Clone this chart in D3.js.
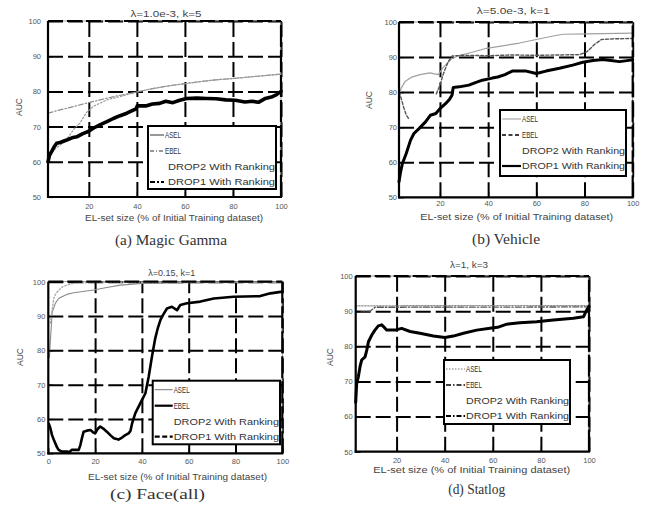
<!DOCTYPE html>
<html>
<head>
<meta charset="utf-8">
<script src="https://cdn.jsdelivr.net/npm/d3@7"></script>
<style>
  body { margin: 0; background: #fff; }
  svg { display: block; }
</style>
</head>
<body>
<svg id="fig" width="649" height="506" xmlns="http://www.w3.org/2000/svg"></svg>
<script>
// ---- shared labels and ticks ----
const yTicks = [50, 60, 70, 80, 90, 100];
const xTicks = [20, 40, 60, 80, 100];
const xTicksFace = [0, 20, 40, 60, 80, 100];
const seriesNames = ["ASEL", "EBEL", "DROP2 With Ranking", "DROP1 With Ranking"];
const xLabel = "EL-set size (% of Initial Training dataset)";
const yLabel = "AUC";
const titles = ["λ=1.0e-3, k=5", "λ=5.0e-3, k=1", "λ=0.15, k=1", "λ=1, k=3"];
const captions = ["(a) Magic Gamma", "(b) Vehicle", "(c) Face(all)", "(d) Statlog"];

// ---- (a) Magic Gamma: [EL-set size %, AUC] ----
const magicASEL = [[3,73.8],[7,74.6],[10.8,75.2],[17,76.3],[24.6,77.6],[31,78.6],[38.5,79.6],[45,80.6],[52.5,81.5],[60,82.2],[66.6,82.8],[73,83.3],[80.6,83.7],[90,84.3],[100,84.9]];
const magicEBEL = [[3.5,61],[5,63],[7,64.2],[9,65.2],[10.8,66.4],[12.5,68],[14,69.5],[16.3,71],[19,74],[22,75.8],[27.5,77.6],[33,78.5],[38.5,79.6],[45,80.6],[52.5,81.5],[60,82.2],[66.6,82.8],[73,83.3],[80.6,83.7],[90,84.3],[100,84.9]];
const magicDROP1 = [[3,60],[3.6,61.8],[4.5,62.9],[5.5,64.2],[6.6,65.3],[8,65.5],[10.8,66.2],[13,66.8],[15,67.1],[17.5,68],[19.8,68.6],[22,69.6],[24.6,70.5],[27.5,71.4],[30.2,72.3],[33,73.1],[35.8,73.8],[38.5,74.7],[39.6,75],[40.2,75.9],[44,75.9],[46.5,76.4],[49.5,76.6],[52,77.2],[55,76.8],[57.5,77.4],[60.7,78],[65,78.1],[69,78],[73,77.9],[77,77.6],[81,77.5],[85,77],[88,77.2],[90.6,76.9],[93.5,78],[96,78.4],[98,79],[100,80]];

// ---- (b) Vehicle ----
const vehicleASEL = [[3,77.2],[3.8,81],[5.5,83],[8,84.2],[11.7,85],[15.8,85.5],[19.3,85],[21.3,87],[24.8,89.5],[28.3,90.5],[33,91.3],[39.3,92.5],[46,93.2],[53,94],[60,95],[67,96],[71,96.5],[81,96.6],[100,96.8]];
const vehicleEBEL = [[3,80],[4,78],[5,75.5],[6,73.5],[7,72.5],[8,null],[18.5,79.5],[20,82],[21.3,85],[23.3,88.5],[25,90.3],[30,90.5],[40,90.4],[50,90.6],[60,90.5],[70,90.6],[78,90.7],[81,91.5],[84,93.5],[87,95],[92,95.2],[100,95.3]];
const vehicleDROP1 = [[3,54.4],[3.6,57],[4.4,59.6],[6,62.5],[7.8,66.3],[9.2,68.2],[11.3,69.6],[14,71.5],[16,73.4],[18.3,73.9],[20,75.3],[22.3,76.7],[24,78],[25,79.1],[25.5,81.3],[28,81.5],[32,82],[35,82.8],[37.6,83.4],[41.7,84],[44,84.3],[47,85],[50,86],[55.8,86],[60,85.3],[64,86],[69.6,86.8],[75.1,87.7],[79.3,88.5],[83.5,89],[87.6,89.3],[91,89],[94.5,88.7],[100,89.2]];

// ---- (c) Face(all) ----
const faceASEL = [[0.5,78],[0.9,83],[1.3,87],[1.6,91],[3,93.7],[4.4,95.1],[5.8,95.6],[7.9,96.3],[10.8,96.8],[19.4,97.6],[25,98.3],[30.8,99],[40,99.5],[60,99.7],[100,99.8]];
const faceEBEL = [[0.9,88],[1.7,92],[2.3,95],[3.2,96.5],[4.4,97.5],[6.5,98.7],[9.4,99.3],[11.7,99.6],[20,99.8],[100,99.9]];
const faceDROP1 = [[0.3,58.5],[0.8,57.5],[1.6,55.3],[2.3,54],[3,52.9],[3.7,51.8],[4.4,51],[5.8,50.5],[8,50.5],[9,50.3],[10,51],[13,51],[13.7,52.4],[14.4,54.5],[15.1,56.3],[16.5,56.6],[18,56.8],[19,56.2],[20,55.8],[21,57],[22.2,57.8],[23.5,57.2],[25,56.3],[26.5,55.3],[28,54.4],[30,54],[31.5,54.6],[32.9,55.3],[34.3,55.8],[35.1,56.5],[35.8,58.7],[37.2,61.7],[38.6,63.6],[40,65.5],[41.5,67.5],[42.9,72.3],[44.3,78.2],[45.7,83.5],[46.8,86.5],[47.9,88.8],[48.6,89.8],[50.7,92.2],[52.8,92.7],[55,91.7],[56.4,93.2],[59.3,93.7],[65,94.2],[70.7,95.1],[79.2,95.6],[90.6,95.8],[94.9,96.6],[100,97.1]];

// ---- (d) Statlog ----
const statlogASEL = [[3,91.5],[50,91.6],[100,91.6]];
const statlogEBEL = [[3,90],[9,90],[11,91.1],[100,91.2]];
const statlogDROP1 = [[3,64],[3.4,69.4],[4.1,71.3],[4.8,74.2],[5.5,76.1],[6.9,77],[7.6,78.9],[8.3,81.3],[9.7,83.2],[11,84.6],[12.4,85.8],[13.8,86.1],[15,85.3],[15.9,84.6],[19.4,84.6],[22.1,85.1],[25.6,84.2],[29.7,83.7],[35.3,82.9],[40.1,82.5],[43.6,82.9],[47.8,83.7],[53.3,84.6],[58.8,85.1],[62,85.4],[65.8,86.3],[71.3,86.7],[78.2,87],[85.2,87.5],[93.5,88],[97.7,88.4],[99,90.3],[100,91.3]];

// ---- drawing ----
const svg = d3.select("#fig");
const FONT = "'Liberation Sans', Arial, sans-serif";
const SERIF = "'Liberation Serif', 'Times New Roman', serif";

const panels = [
  { box: [48, 21, 281, 197], xDomain: [3, 100], xt: xTicks, xPad: 7, yPad: 7,
    title: [166, 14, 71], yLab: [19, 107], xLab: [174, 218, 178], cap: [171, 240, 112],
    legend: [148, 126, 276, 189], textOff: 17,
    series: [
      { data: magicASEL, stroke: "#8c8c8c", width: 1.2, dash: "5,2,1.5,2" },
      { data: magicEBEL, stroke: "#9c9c9c", width: 1.2, dash: "1.5,2" },
      { data: magicDROP1, stroke: "#000", width: 3.6 }
    ],
    keys: [
      { stroke: "#333", width: 1 }, { stroke: "#333", width: 1.2, dash: "4,2,1,2" },
      null, { stroke: "#000", width: 2, dash: "5,2,2,2" }
    ] },
  { box: [399, 22, 632.7, 197.3], xDomain: [3, 100], xt: xTicks, xPad: 3.2, yPad: 2,
    title: [513.3, 11, 73], yLab: [369, 100], xLab: [516.7, 216.7, 193], cap: [506, 239, 68],
    legend: [500, 110, 626, 176], textOff: 22,
    series: [
      { data: vehicleASEL, stroke: "#a0a0a0", width: 1.2 },
      { data: vehicleEBEL, stroke: "#555", width: 1.4, dash: "3,2" },
      { data: vehicleDROP1, stroke: "#000", width: 3 }
    ],
    keys: [
      { stroke: "#999", width: 1 }, { stroke: "#000", width: 1.6, dash: "4,2.5" },
      null, { stroke: "#000", width: 2.2 }
    ] },
  { box: [48.3, 281.7, 282.3, 453.3], xDomain: [0, 100], xt: xTicksFace, xPad: 5.8, yPad: 3,
    title: [171.7, 273.3, 47], yLab: [20, 357], xLab: [177.5, 476.7, 179], cap: [157.5, 494, 95],
    legend: [152.7, 380.7, 280, 444.3], textOff: 21,
    series: [
      { data: faceASEL, stroke: "#8a8a8a", width: 1.1 },
      { data: faceEBEL, stroke: "#a8a8a8", width: 1.3, dash: "1.5,2" },
      { data: faceDROP1, stroke: "#000", width: 2.6 }
    ],
    keys: [
      { stroke: "#777", width: 1 }, { stroke: "#000", width: 2.2 },
      null, { stroke: "#000", width: 2.2, dash: "5,2.5" }
    ] },
  { box: [355.7, 276, 589, 451.7], xDomain: [3, 100], xt: xTicks, xPad: 6.4, yPad: 3,
    title: [469, 265, 38], yLab: [330, 357], xLab: [471.7, 470, 197], cap: [476.7, 489, 57],
    legend: [444, 360, 570, 424], textOff: 22,
    series: [
      { data: statlogASEL, stroke: "#8a8a8a", width: 1.2, dash: "1.5,1.5" },
      { data: statlogEBEL, stroke: "#555", width: 1.3, dash: "6,2,1.5,2" },
      { data: statlogDROP1, stroke: "#000", width: 3 }
    ],
    keys: [
      { stroke: "#777", width: 1, dash: "1.5,1.5" }, { stroke: "#000", width: 1.5, dash: "5,2,1.5,2" },
      null, { stroke: "#000", width: 2.2, dash: "5,2,1.5,2" }
    ] }
];

const gridDash = "15,5";

panels.forEach((p, i) => {
  const [x0, y0, x1, y1] = p.box;
  const x = d3.scaleLinear().domain(p.xDomain).range([x0, x1]);
  const y = d3.scaleLinear().domain([50, 100]).range([y1, y0]);
  const g = svg.append("g");

  // dashed grid, drawn as full-length axis ticks
  const styleGrid = sel => {
    sel.select(".domain").remove();
    sel.selectAll(".tick line")
      .style("stroke", "#000").style("stroke-width", "2px").style("stroke-dasharray", gridDash);
  };
  g.append("g").attr("class", "grid-x").attr("transform", `translate(0,${y1})`)
    .call(d3.axisBottom(x).tickValues(p.xt.filter(v => v > p.xDomain[0]))
      .tickSize(-(y1 - y0)).tickFormat(""))
    .call(styleGrid);
  g.append("g").attr("class", "grid-y").attr("transform", `translate(${x0},0)`)
    .call(d3.axisLeft(y).tickValues(yTicks.filter(v => v > 50))
      .tickSize(-(x1 - x0)).tickFormat(""))
    .call(styleGrid);

  // thin box under the dashed top/right edges
  g.append("rect").attr("x", x0).attr("y", y0).attr("width", x1 - x0).attr("height", y1 - y0)
    .style("fill", "none").style("stroke", "#777").style("stroke-width", "0.7px");

  // data lines
  const clipId = "clip" + i;
  svg.append("clipPath").attr("id", clipId).append("rect")
    .attr("x", x0 - 2).attr("y", y0 - 2).attr("width", x1 - x0 + 4).attr("height", y1 - y0 + 4);
  const line = d3.line().defined(d => d[1] != null).x(d => x(d[0])).y(d => y(d[1]));
  const lg = g.append("g").attr("clip-path", `url(#${clipId})`);
  p.series.forEach(s => {
    lg.append("path").datum(s.data).attr("d", line)
      .style("fill", "none").style("stroke", s.stroke).style("stroke-width", s.width + "px")
      .style("stroke-dasharray", s.dash || "none")
      .style("stroke-linejoin", "round").style("stroke-linecap", "round");
  });

  // tick labels with short inward ticks
  const styleAxis = sel => {
    sel.select(".domain").remove();
    sel.selectAll(".tick line").style("stroke", "#000").style("stroke-width", "1.2px");
    sel.selectAll("text").attr("font-family", FONT).attr("font-size", 7.5).attr("fill", "#555");
  };
  g.append("g").attr("transform", `translate(0,${y1})`)
    .call(d3.axisBottom(x).tickValues(p.xt).tickSizeInner(-5).tickSizeOuter(0).tickPadding(p.xPad))
    .call(styleAxis);
  g.append("g").attr("transform", `translate(${x0},0)`)
    .call(d3.axisLeft(y).tickValues(yTicks).tickSizeInner(-5).tickSizeOuter(0).tickPadding(p.yPad))
    .call(styleAxis);

  // frame: solid left/bottom, dashed top/right
  const frame = [
    { a: [x0, y0, x0, y1 + 1], dash: "none" },
    { a: [x0 - 1, y1, x1 + 1, y1], dash: "none" },
    { a: [x0, y0, x1, y0], dash: "15,4" },
    { a: [x1, y1, x1, y0], dash: "22,3" }
  ];
  g.append("g").selectAll("line").data(frame).join("line")
    .attr("x1", d => d.a[0]).attr("y1", d => d.a[1]).attr("x2", d => d.a[2]).attr("y2", d => d.a[3])
    .style("stroke", "#000").style("stroke-width", "2.2px").style("stroke-dasharray", d => d.dash);

  // legend
  const [lx0, ly0, lx1, ly1] = p.legend;
  const lgd = g.append("g");
  lgd.append("rect").attr("x", lx0).attr("y", ly0).attr("width", lx1 - lx0).attr("height", ly1 - ly0)
    .style("fill", "#fff").style("stroke", "#000").style("stroke-width", "2px");
  const rowOff = [9, 25, 41, 56];
  seriesNames.forEach((name, k) => {
    const ry = ly0 + rowOff[k];
    const key = p.keys[k];
    if (key) {
      lgd.append("line").attr("x1", lx0 + 2).attr("x2", lx0 + p.textOff - 1)
        .attr("y1", ry).attr("y2", ry)
        .style("stroke", key.stroke).style("stroke-width", key.width + "px")
        .style("stroke-dasharray", key.dash || "none");
    }
    const long = name.length > 6;
    const tx = lx0 + (long ? Math.max(p.textOff, 20) : p.textOff);
    lgd.append("text").attr("x", tx).attr("y", ry).attr("dy", "0.35em")
      .attr("font-family", FONT).attr("font-size", 9).attr("fill", "#333")
      .attr("textLength", long ? (lx1 - tx - 1) : 16).attr("lengthAdjust", "spacingAndGlyphs")
      .text(name);
  });

  // title, axis labels, caption
  g.append("text").attr("x", p.title[0]).attr("y", p.title[1]).attr("dy", "0.35em")
    .attr("text-anchor", "middle").attr("font-family", FONT).attr("font-size", 8.5).attr("fill", "#444")
    .attr("textLength", p.title[2]).attr("lengthAdjust", "spacingAndGlyphs")
    .text(titles[i]);
  g.append("text").attr("transform", `translate(${p.yLab[0]},${p.yLab[1]}) rotate(-90)`)
    .attr("dy", "0.35em").attr("text-anchor", "middle")
    .attr("font-family", FONT).attr("font-size", 8.5).attr("fill", "#444")
    .text(yLabel);
  g.append("text").attr("x", p.xLab[0]).attr("y", p.xLab[1]).attr("dy", "0.35em")
    .attr("text-anchor", "middle").attr("font-family", FONT).attr("font-size", 8.5).attr("fill", "#444")
    .attr("textLength", p.xLab[2]).attr("lengthAdjust", "spacingAndGlyphs")
    .text(xLabel);
  g.append("text").attr("x", p.cap[0]).attr("y", p.cap[1]).attr("dy", "0.35em")
    .attr("text-anchor", "middle").attr("font-family", SERIF).attr("font-size", 15).attr("fill", "#333")
    .attr("textLength", p.cap[2]).attr("lengthAdjust", "spacingAndGlyphs")
    .text(captions[i]);
});
</script>
</body>
</html>
